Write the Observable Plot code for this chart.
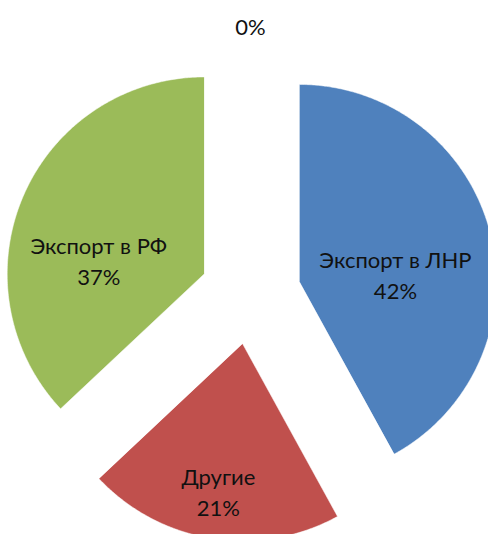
<!DOCTYPE html>
<html><head><meta charset="utf-8">
<script src="https://cdn.jsdelivr.net/npm/d3@7"></script>
<script src="https://cdn.jsdelivr.net/npm/@observablehq/plot@0.6"></script>
<style>html,body{margin:0;padding:0;background:#fff}</style>
</head><body><div id="chart"></div>
<script>
// ---- data ----
const categories = ["Экспорт в ЛНР", "Другие", "Экспорт в РФ", "(прочее)"];
const shares = [42, 21, 37, 0];
const percentLabels = ["42%", "21%", "37%", "0%"];
const showCategoryName = [true, true, true, false];
const colors = ["#4F81BD", "#C0504D", "#9BBB59", "#8064A2"];

// ---- layout (unit = pie radius) ----
const explode = 0.256;
// label placement in polar terms (angle clockwise from 12 o'clock, distance from pie centre)
const labelPolar = [
  {angle: 82, dist: 0.743},
  {angle: 189.3, dist: 1.01},
  {angle: 282.8, dist: 0.79},
  {angle: 0, dist: 1.363}
];

const total = d3.sum(shares);
const rad = Math.PI / 180;
let acc = 0;
const slices = shares.map((v, i) => {
  const a0 = acc / total * 360;
  acc += v;
  const a1 = acc / total * 360;
  return {cat: categories[i], a0, a1, mid: (a0 + a1) / 2};
});

const polygons = [];
slices.forEach(s => {
  if (s.a1 - s.a0 <= 0) return;
  const ox = explode * Math.sin(s.mid * rad);
  const oy = explode * Math.cos(s.mid * rad);
  polygons.push({cat: s.cat, x: ox, y: oy});
  const n = Math.max(2, Math.ceil((s.a1 - s.a0) / 0.5));
  for (let k = 0; k <= n; k++) {
    const a = (s.a0 + (s.a1 - s.a0) * k / n) * rad;
    polygons.push({cat: s.cat, x: ox + Math.sin(a), y: oy + Math.cos(a)});
  }
});

const labels = slices.map((s, i) => ({
  x: labelPolar[i].dist * Math.sin(labelPolar[i].angle * rad),
  y: labelPolar[i].dist * Math.cos(labelPolar[i].angle * rad),
  text: (showCategoryName[i] ? categories[i] + "\n" : "") + percentLabels[i]
}));

const chart = Plot.plot({
  width: 488,
  height: 534,
  margin: 0,
  style: {fontFamily: "Lato, 'Open Sans', sans-serif", background: "#fff"},
  x: {domain: [-250 / 197, 238 / 197], axis: null},
  y: {domain: [-240.5 / 197, 293.5 / 197], axis: null},
  color: {domain: categories, range: colors},
  marks: [
    Plot.line(polygons, {x: "x", y: "y", z: "cat", fill: "cat", stroke: "white", strokeWidth: 0.5, curve: "linear-closed"}),
    Plot.text(labels, {x: "x", y: "y", text: "text", fontSize: 22, lineHeight: 1.4, fill: "#111"})
  ]
});
document.getElementById("chart").appendChild(chart);
</script>
</body></html>
